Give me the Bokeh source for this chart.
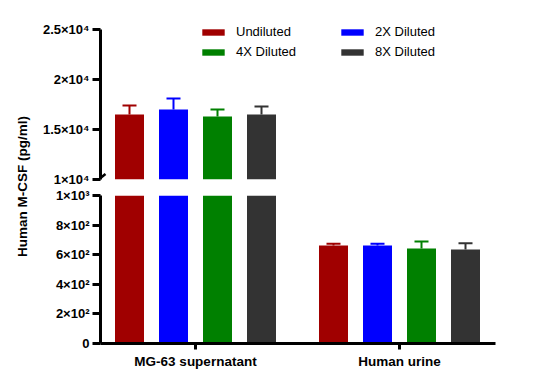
import math
from bokeh.plotting import figure
from bokeh.models import Range1d, FixedTicker, Legend, LegendItem, Label, Arrow, ColumnDataSource
from bokeh.layouts import row, column
from bokeh.embed import file_html
from bokeh.resources import INLINE

# ---------------- data ----------------
groups = ["MG-63 supernatant", "Human urine"]
series = ["Undiluted", "2X Diluted", "4X Diluted", "8X Diluted"]
colors = ["#A00000", "#0000FF", "#008000", "#333333"]
undiluted = [16500, 662]
diluted_2x = [17000, 662]
diluted_4x = [16300, 642]
diluted_8x = [16500, 635]
err_undiluted = [900, 12]
err_2x = [1100, 12]
err_4x = [700, 47]
err_8x = [800, 43]
upper_ticks = [10000, 15000, 20000, 25000]
upper_tick_labels = ["1×10⁴", "1.5×10⁴", "2×10⁴", "2.5×10⁴"]
lower_ticks = [0, 200, 400, 600, 800, 1000]
lower_tick_labels = ["0", "2×10²", "4×10²", "6×10²", "8×10²", "1×10³"]
y_label = "Human M-CSF (pg/ml)"

values = [undiluted, diluted_2x, diluted_4x, diluted_8x]
errors = [err_undiluted, err_2x, err_4x, err_8x]

# ---------------- layout constants ----------------
FONT = "Liberation Sans"
FRAME_W = 395
PX_PER_UNIT = 204.0
X_START = -95 / PX_PER_UNIT
X_END = 1 + 96 / PX_PER_UNIT
SPACING = 44 / PX_PER_UNIT
BAR_W = 29 / PX_PER_UNIT
CAP_HALF = 7 / PX_PER_UNIT
FIG_W = 500
LEFT_B = 68
RIGHT_B = FIG_W - LEFT_B - FRAME_W
LAB_W = 32


def make_fig(y0, y1, y_top, height, top_b, frame_h, ticks, labels, show_x):
    p = figure(width=FIG_W, height=height, x_range=Range1d(X_START, X_END),
               y_range=Range1d(y0, y_top), toolbar_location=None,
               output_backend="svg", min_border_left=LEFT_B,
               min_border_right=RIGHT_B, min_border_top=top_b,
               min_border_bottom=height - top_b - frame_h,
               x_axis_location="below" if show_x else None)
    p.outline_line_color = None
    p.xgrid.grid_line_color = None
    p.ygrid.grid_line_color = None
    p.background_fill_color = "white"
    p.border_fill_color = "white"
    ya = p.yaxis[0]
    ya.bounds = (y0, y1)
    ya.ticker = FixedTicker(ticks=ticks)
    ya.major_label_overrides = {t: l for t, l in zip(ticks, labels)}
    ya.axis_line_width = 3
    ya.major_tick_line_width = 3
    ya.major_tick_out = 8
    ya.major_tick_in = 0
    ya.minor_tick_line_color = None
    ya.major_label_standoff = 3
    ya.major_label_text_font = FONT
    ya.major_label_text_font_style = "bold"
    ya.major_label_text_font_size = "13px"
    ya.major_label_text_color = "black"
    if show_x:
        xa = p.xaxis[0]
        xa.ticker = FixedTicker(ticks=list(range(len(groups))))
        xa.major_label_overrides = {i: g for i, g in enumerate(groups)}
        xa.axis_line_width = 3
        xa.major_tick_line_width = 3
        xa.major_tick_out = 6
        xa.major_tick_in = 0
        xa.minor_tick_line_color = None
        xa.major_label_standoff = 4
        xa.major_label_text_font = FONT
        xa.major_label_text_font_style = "bold"
        xa.major_label_text_font_size = "13.5px"
        xa.major_label_text_color = "black"

    renderers = {}
    for i, (name, vals, errs, col) in enumerate(zip(series, values, errors, colors)):
        off = (i - 1.5) * SPACING
        keep = [g for g in range(len(groups)) if vals[g] > y0]
        xs = [g + off for g in keep]
        tops = [vals[g] for g in keep]
        ups = [vals[g] + errs[g] for g in keep]
        src = ColumnDataSource(dict(x=xs, top=tops, up=ups,
                                    xl=[x - CAP_HALF for x in xs],
                                    xr=[x + CAP_HALF for x in xs]))
        r = p.vbar(x="x", top="top", bottom=0, width=BAR_W, source=src,
                   fill_color=col, line_color=None)
        p.segment(x0="x", y0="top", x1="x", y1="up", source=src,
                  line_color=col, line_width=2)
        p.segment(x0="xl", y0="up", x1="xr", y1="up", source=src,
                  line_color=col, line_width=2)
        renderers[name] = r
    return p, renderers


# upper segment: 1e4..2.5e4 at 100 units/px; frame reaches 10 px above the top tick
TOP_H = 187
top, rends = make_fig(10000, 25000, 26000, TOP_H, 19, 160, upper_ticks, upper_tick_labels, False)
# lower segment: 0..1000, frame 148 px
BOT_H = 194
bot, _ = make_fig(0, 1000, 1000, BOT_H, 8, 148, lower_ticks, lower_tick_labels, True)

# legend (2 columns, filled column by column -> rows: Undiluted/2X, 4X/8X)
legend_order = [series[0], series[2], series[1], series[3]]
legend = Legend(items=[LegendItem(label=s, renderers=[rends[s]]) for s in legend_order],
                ncols=2, location=(99, 120), border_line_color=None,
                background_fill_alpha=0, padding=0, margin=0,
                glyph_width=28, glyph_height=8, label_standoff=9,
                label_width=97, spacing=5, label_text_font=FONT,
                label_text_font_size="13px", label_text_color="black")
top.add_layout(legend)

# axis break marks
u_top = 15000 / 150.0   # data units per px, upper
u_bot = 1000 / 148.0    # data units per px, lower
top.add_layout(Arrow(end=None, x_start=X_START - 5 / PX_PER_UNIT, y_start=10000 - 2.5 * u_top,
                     x_end=X_START + 5 / PX_PER_UNIT, y_end=10000 + 5.5 * u_top,
                     line_width=2.5, line_color="black"))
bot.add_layout(Arrow(end=None, x_start=X_START - 5 / PX_PER_UNIT, y_start=1000 - 2.5 * u_bot,
                     x_end=X_START + 5 / PX_PER_UNIT, y_end=1000 + 5.5 * u_bot,
                     line_width=2.5, line_color="black"))

# y-axis title in a narrow figure spanning both segments
H = TOP_H + BOT_H
lab = figure(width=LAB_W, height=H, x_range=Range1d(0, 1), y_range=Range1d(0, 1),
             toolbar_location=None, output_backend="svg", min_border=0,
             x_axis_location=None, y_axis_location=None)
lab.outline_line_color = None
lab.xgrid.grid_line_color = None
lab.ygrid.grid_line_color = None
lab.add_layout(Label(x=22 / LAB_W, y=1 - 186 / H, text=y_label, angle=math.pi / 2,
                     text_align="center", text_baseline="middle", text_font=FONT,
                     text_font_style="bold", text_font_size="13.5px", text_color="black"))

layout = row(lab, column(top, bot))
open("out.html", "w").write(file_html(layout, INLINE))
